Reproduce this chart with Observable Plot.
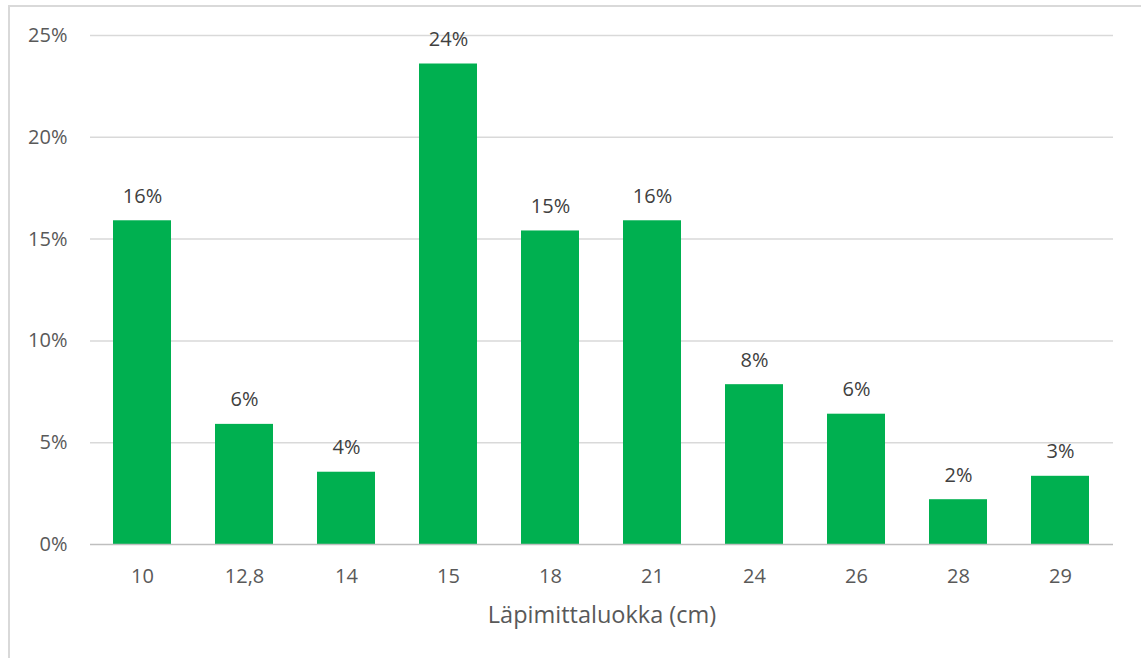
<!DOCTYPE html>
<html>
<head>
<meta charset="utf-8">
<script src="https://cdn.jsdelivr.net/npm/d3@7"></script>
<script src="https://cdn.jsdelivr.net/npm/@observablehq/plot@0.6"></script>
<style>
  html, body { margin: 0; padding: 0; background: #fff; }
  #wrap { position: relative; width: 1141px; height: 658px; overflow: hidden; }
  #border { position: absolute; left: 8px; top: 5px; width: 1200px; height: 700px;
            border-top: 2px solid #d9d9d9; border-left: 2px solid #d9d9d9; box-sizing: border-box; }
  #chart { position: absolute; left: 0; top: 0; }
  svg text { font-family: "Open Sans", sans-serif; }
</style>
</head>
<body>
<div id="wrap"><div id="border"></div><div id="chart"></div></div>
<script>
const categories = ["10", "12,8", "14", "15", "18", "21", "24", "26", "28", "29"];
const values = [15.9, 5.9, 3.55, 23.6, 15.4, 15.9, 7.85, 6.4, 2.2, 3.35];
const labels = ["16%", "6%", "4%", "24%", "15%", "16%", "8%", "6%", "2%", "3%"];
const yTicks = [0, 5, 10, 15, 20, 25];
const xTitle = "Läpimittaluokka (cm)";

const data = categories.map((c, i) => ({cat: c, value: values[i], label: labels[i]}));

const chart = Plot.plot({
  width: 1141,
  height: 658,
  marginLeft: 90,
  marginRight: 28,
  marginTop: 35,
  marginBottom: 114,
  style: {fontFamily: "Open Sans, sans-serif", fontSize: "20px", background: "transparent"},
  x: {domain: categories, paddingInner: 0.43, paddingOuter: 0.215},
  y: {domain: [0, 25]},
  marks: [
    Plot.ruleY(yTicks.filter(d => d > 0), {stroke: "#d9d9d9", strokeWidth: 1.5}),
    Plot.barY(data, {x: "cat", y: "value", fill: "#00b050"}),
    Plot.ruleY([0], {stroke: "#bfbfbf", strokeWidth: 1.5}),
    Plot.text(data, {x: "cat", y: "value", text: "label", dy: -18, lineAnchor: "bottom",
                     fill: "#404040", fontSize: 20}),
    Plot.axisY({ticks: yTicks, tickFormat: d => d + "%", tickSize: 0, tickPadding: 23,
                label: null, fill: "#595959", fontSize: 20}),
    Plot.axisX({tickSize: 0, tickPadding: 24, label: null, fill: "#595959", fontSize: 20}),
    Plot.text([xTitle], {frameAnchor: "bottom", dy: 78, lineAnchor: "bottom",
                         fill: "#595959", fontSize: 23.5})
  ]
});
document.getElementById("chart").appendChild(chart);
</script>
</body>
</html>
